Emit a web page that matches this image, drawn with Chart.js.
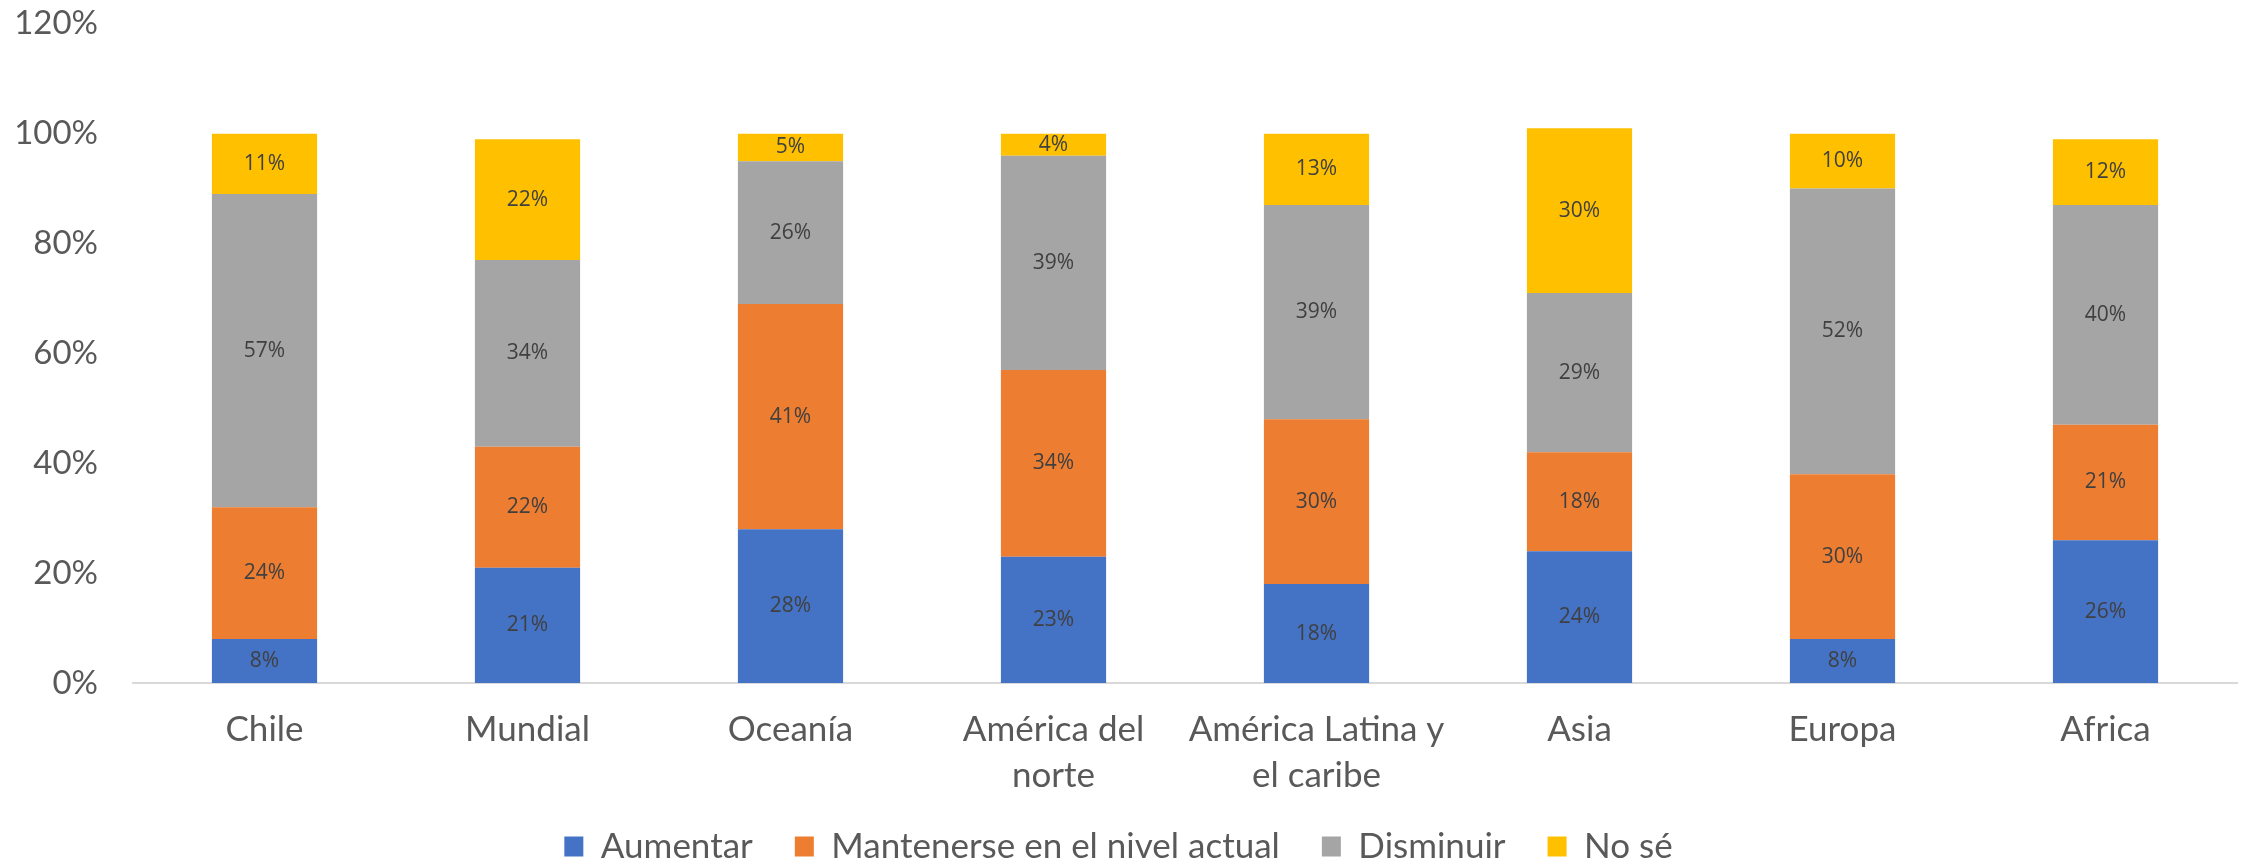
<!DOCTYPE html>
<html>
<head>
<meta charset="utf-8">
<script src="https://cdn.jsdelivr.net/npm/chart.js@4/dist/chart.umd.min.js"></script>
<style>
html,body{margin:0;padding:0;background:#fff;}
canvas{display:block;}
</style>
</head>
<body>
<canvas id="c" width="2246" height="860"></canvas>
<script>
const categories = [
  "Chile", "Mundial", "Oceanía", ["América del", "norte"],
  ["América Latina y", "el caribe"], "Asia", "Europa", "Africa"
];
const seriesNames = ["Aumentar", "Mantenerse en el nivel actual", "Disminuir", "No sé"];
const aumentar    = [8, 21, 28, 23, 18, 24, 8, 26];
const mantenerse  = [24, 22, 41, 34, 30, 18, 30, 21];
const disminuir   = [57, 34, 26, 39, 39, 29, 52, 40];
const nose        = [11, 22, 5, 4, 13, 30, 10, 12];
const colors = ["#4472C4", "#ED7D31", "#A5A5A5", "#FFC000"];
const yTicks = [0, 20, 40, 60, 80, 100, 120];

const FONT = "Lato, 'Open Sans', sans-serif";

const labelPlugin = {
  id: "segLabels",
  afterDatasetsDraw(chart) {
    const ctx = chart.ctx;
    ctx.save();
    ctx.font = "21px 'Open Sans', sans-serif";
    ctx.fillStyle = "#404040";
    ctx.textAlign = "center";
    ctx.textBaseline = "middle";
    chart.data.datasets.forEach((ds, di) => {
      const meta = chart.getDatasetMeta(di);
      meta.data.forEach((bar, i) => {
        const p = bar.getProps(["x", "y", "base"], true);
        ctx.fillText(ds.data[i] + "%", p.x, (p.y + p.base) / 2);
      });
    });
    ctx.restore();
  }
};

const allSeries = [aumentar, mantenerse, disminuir, nose];

new Chart(document.getElementById("c"), {
  type: "bar",
  data: {
    labels: categories,
    datasets: allSeries.map((d, i) => ({
      label: seriesNames[i],
      data: d,
      backgroundColor: colors[i],
      borderWidth: 0,
      barPercentage: 0.4,
      categoryPercentage: 1.0
    }))
  },
  options: {
    responsive: false,
    devicePixelRatio: 1,
    animation: false,
    layout: { padding: { top: 0, right: 9, bottom: -14, left: 0 } },
    plugins: {
      tooltip: { enabled: false },
      legend: {
        position: "bottom",
        labels: {
          boxWidth: 19,
          boxHeight: 20,
          padding: 42,
          color: "#595959",
          font: { family: FONT, size: 35 }
        }
      }
    },
    scales: {
      x: {
        stacked: true,
        grid: { display: false },
        border: { display: true, color: "#D9D9D9", width: 2 },
        ticks: {
          color: "#595959",
          padding: 16,
          maxRotation: 0,
          autoSkip: false,
          font: { family: FONT, size: 35, lineHeight: 1.3 }
        },
        afterFit(scale) {
          scale.height = 104;
          scale._computeLabelArea = () => null;
        }
      },
      y: {
        stacked: true,
        min: 0,
        max: 120,
        grid: { display: false, drawTicks: true, tickLength: 31 },
        border: { display: false },
        afterBuildTicks(scale) { scale.ticks = yTicks.map(v => ({ value: v })); },
        ticks: {
          color: "#595959",
          padding: 4,
          font: { family: FONT, size: 33 },
          callback: v => v + "%"
        },
        afterFit(scale) { scale.width = 133; }
      }
    }
  },
  plugins: [labelPlugin]
});
</script>
</body>
</html>
